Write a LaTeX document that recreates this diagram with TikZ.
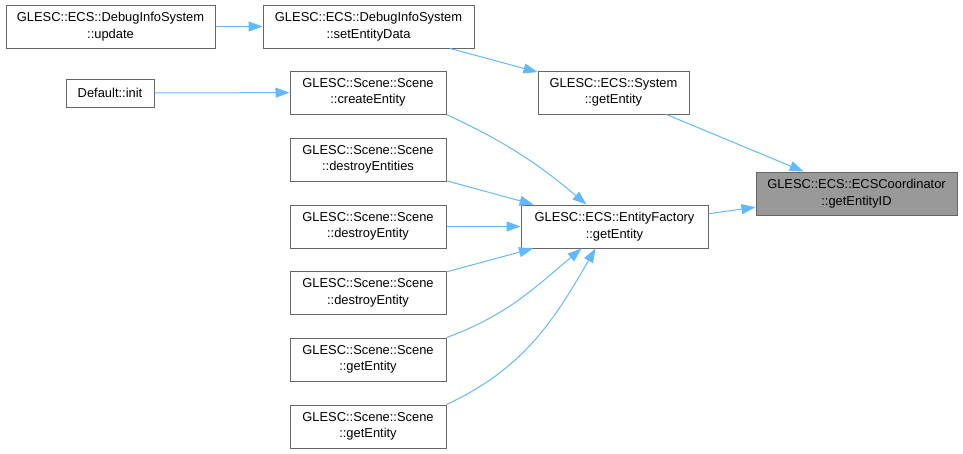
\documentclass[tikz,border=0pt]{standalone}
\usepackage{fontspec}
\setmainfont{Liberation Sans}
\usepackage{tikz}
\usetikzlibrary{arrows.meta}
\definecolor{edgeblue}{HTML}{63B8FF}
\definecolor{boxgray}{HTML}{666666}
\definecolor{hitgray}{HTML}{999999}

\begin{document}
\begin{tikzpicture} [x = 1pt, y = -1pt,
	fn/.style = {draw = boxgray, line width = 1pt, fill = white, align = center, inner sep = 0pt,
		minimum height = 43pt, font = \fontsize{12.9}{16.5}\selectfont},
	call/.style = {edgeblue, line width = 1pt, -{Triangle[length = 14pt, width = 10pt]}}]
	\useasboundingbox (0,0) rectangle (963,453);
	% callers, left column
	\node [fn, minimum width = 209pt] (upd) at (110.5,26.5) {GLESC::ECS::DebugInfoSystem\\::update};
	\node [fn, minimum width = 88pt, minimum height = 28pt] (init) at (110,93) {Default::init};
	% middle column
	\node [fn, minimum width = 211pt] (sed) at (368.5,26.5) {GLESC::ECS::DebugInfoSystem\\::setEntityData};
	\node [fn, minimum width = 156pt] (crt) at (368,92.5) {GLESC::Scene::Scene\\::createEntity};
	\node [fn, minimum width = 156pt] (dEs) at (368,159.5) {GLESC::Scene::Scene\\::destroyEntities};
	\node [fn, minimum width = 156pt] (dE1) at (368,226.5) {GLESC::Scene::Scene\\::destroyEntity};
	\node [fn, minimum width = 156pt] (dE2) at (368,293) {GLESC::Scene::Scene\\::destroyEntity};
	\node [fn, minimum width = 156pt] (gE1) at (368,359.5) {GLESC::Scene::Scene\\::getEntity};
	\node [fn, minimum width = 156pt] (gE2) at (368,426.5) {GLESC::Scene::Scene\\::getEntity};
	% right side
	\node [fn, minimum width = 151pt] (sys) at (613.5,92.5) {GLESC::ECS::System\\::getEntity};
	\node [fn, minimum width = 187pt] (ef) at (614.5,226.5) {GLESC::ECS::EntityFactory\\::getEntity};
	\node [fn, fill = hitgray, minimum width = 201pt] (ecs) at (856.5,193.5) {GLESC::ECS::ECSCoordinator\\::getEntityID};
	% calls
	\draw [call] (upd) -- (sed);
	\draw [call] (init) -- (crt);
	\draw [call] (sed) -- (sys);
	\draw [call] (sys) -- (ecs);
	\draw [call] (ef) -- (ecs);
	\draw [call] (crt.south east) to [out = -25, in = 140] ([xshift = -28pt]ef.north);
	\draw [call] (dEs) -- (ef);
	\draw [call] (dE1) -- (ef);
	\draw [call] (dE2) -- (ef);
	\draw [call] (gE1.north east) to [out = 20, in = -140] ([xshift = -33pt]ef.south);
	\draw [call] (gE2.north east) to [out = 25, in = -120] ([xshift = -19pt]ef.south);
\end{tikzpicture}
\end{document}
